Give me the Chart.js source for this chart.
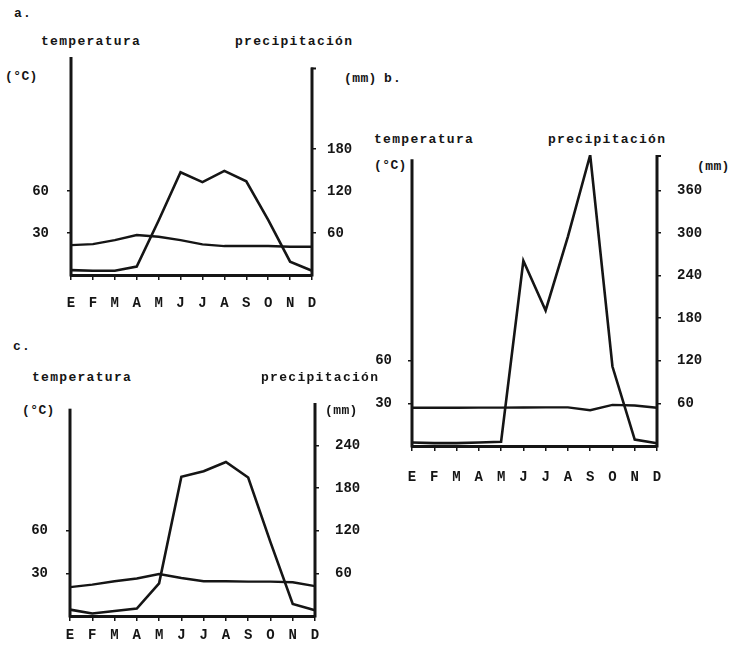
<!DOCTYPE html>
<html>
<head>
<meta charset="utf-8">
<script src="https://cdn.jsdelivr.net/npm/chart.js@4.4.1/dist/chart.umd.min.js"></script>
<style>
  html, body { margin: 0; padding: 0; background: #fff; }
  body { width: 731px; height: 656px; position: relative; overflow: hidden; }
  canvas { position: absolute; }
  .t {
    position: absolute; white-space: nowrap; color: #151515;
    font-family: "Liberation Mono", "DejaVu Sans Mono", monospace;
    font-weight: bold; font-size: 13px; line-height: 16px;
    letter-spacing: 1.3px; transform: translateY(-50%);
  }
  .u { letter-spacing: 0.4px; }
</style>
</head>
<body>

<!-- panel a -->
<div class="t" style="left:14px;top:14px;">a.</div>
<div class="t" style="left:41px;top:42px;">temperatura</div>
<div class="t" style="left:235px;top:42px;">precipitación</div>
<div class="t u" style="left:5px;top:77px;">(°C)</div>
<div class="t u" style="left:344px;top:79px;">(mm)</div>
<canvas id="chartA" width="365" height="320" style="left:0;top:0;"></canvas>

<!-- panel b -->
<div class="t" style="left:384px;top:79px;">b.</div>
<div class="t" style="left:374px;top:140px;">temperatura</div>
<div class="t" style="left:548px;top:140px;">precipitación</div>
<div class="t u" style="left:374px;top:166px;">(°C)</div>
<div class="t u" style="left:697px;top:167px;">(mm)</div>
<canvas id="chartB" width="371" height="400" style="left:360px;top:100px;"></canvas>

<!-- panel c -->
<div class="t" style="left:13px;top:347px;">c.</div>
<div class="t" style="left:32px;top:378px;">temperatura</div>
<div class="t" style="left:261px;top:378px;">precipitación</div>
<div class="t u" style="left:22px;top:411px;">(°C)</div>
<div class="t u" style="left:325px;top:411px;">(mm)</div>
<canvas id="chartC" width="365" height="316" style="left:0;top:340px;"></canvas>

<script>
// Month initials (Spanish)
const months = ['E','F','M','A','M','J','J','A','S','O','N','D'];

// Panel a: mean monthly temperature (°C) and precipitation (mm)
const tempA = [21.4, 22.1, 25, 28.6, 27.4, 25, 21.9, 20.7, 20.7, 20.7, 20.2, 20.2];
const precA = [7, 6, 6, 12, 78, 147, 133, 149, 134, 79, 19, 6];

// Panel b
const tempB = [26.9, 26.9, 26.9, 27, 27, 27.1, 27.2, 27.2, 25.2, 29, 28.5, 26.9];
const precB = [5, 4, 4, 5, 6, 261, 191, 295, 410, 112, 9, 4];

// Panel c
const tempC = [20.3, 22.1, 24.5, 26.4, 29.6, 26.8, 24.5, 24.5, 24.2, 24.2, 23.8, 21];
const precC = [9, 3.5, 7, 10.5, 46, 196, 204, 217, 195, 104, 17, 8];

// Axis tick values
const tempTicks = [30, 60];
const precTicksA = [60, 120, 180];
const precTicksB = [60, 120, 180, 240, 300, 360];
const precTicksC = [60, 120, 180, 240];

const INK = '#151515';
const FONT = { family: '"Liberation Mono", "DejaVu Sans Mono", monospace', weight: 'bold', size: 14 };

// Draws the two vertical axes, each running from its own top value down to zero
const axisLines = {
  id: 'axisLines',
  afterDatasetsDraw(chart, args, opts) {
    const { ctx, chartArea, scales } = chart;
    ctx.save();
    ctx.strokeStyle = INK;
    ctx.lineWidth = 3;
    ctx.lineCap = 'butt';
    const yl = scales.y.getPixelForValue(opts.leftTop);
    ctx.beginPath();
    ctx.moveTo(chartArea.left, yl);
    ctx.lineTo(chartArea.left, chartArea.bottom + 1.5);
    ctx.stroke();
    const yr = scales.y1.getPixelForValue(opts.rightTop);
    ctx.beginPath();
    ctx.moveTo(chartArea.right, yr);
    ctx.lineTo(chartArea.right, chartArea.bottom + 1.5);
    ctx.stroke();
    if (opts.hook) {
      ctx.lineWidth = 2;
      ctx.beginPath();
      ctx.moveTo(chartArea.right - 1, yr + 1);
      ctx.lineTo(chartArea.right + 4, yr + 1);
      ctx.stroke();
    }
    ctx.restore();
  }
};

function climateChart(id, temp, prec, g) {
  return new Chart(document.getElementById(id), {
    type: 'line',
    data: {
      labels: months,
      datasets: [
        { data: temp, yAxisID: 'y', borderColor: INK, borderWidth: 2.4, pointRadius: 0, tension: 0, fill: false },
        { data: prec, yAxisID: 'y1', borderColor: INK, borderWidth: 2.6, pointRadius: 0, tension: 0, fill: false }
      ]
    },
    options: {
      responsive: false,
      animation: false,
      devicePixelRatio: 1,
      layout: { padding: { top: g.top, left: 0, right: 0, bottom: 0 } },
      plugins: {
        legend: { display: false },
        tooltip: { enabled: false },
        axisLines: { leftTop: g.leftTop, rightTop: g.rightTop, hook: g.hook }
      },
      scales: {
        x: {
          type: 'category',
          offset: false,
          grid: { display: true, drawOnChartArea: false, drawTicks: true, tickLength: 5, color: INK, lineWidth: 1.5 },
          border: { display: true, width: 3, color: INK },
          ticks: { autoSkip: false, maxRotation: 0, color: INK, font: FONT, padding: g.xPad },
          afterFit(s) { s.height = g.bottomH; }
        },
        y: {
          type: 'linear', position: 'left', min: 0, max: g.tMax,
          afterBuildTicks(s) { s.ticks = tempTicks.map(v => ({ value: v })); },
          grid: { display: true, drawOnChartArea: false, drawTicks: true, tickLength: 4, color: INK, lineWidth: 1.5 },
          border: { display: false },
          ticks: { color: INK, font: FONT, padding: g.lPad },
          afterFit(s) { s.width = g.leftW; }
        },
        y1: {
          type: 'linear', position: 'right', min: 0, max: g.pMax,
          afterBuildTicks(s) { s.ticks = g.precTicks.map(v => ({ value: v })); },
          grid: { display: true, drawOnChartArea: false, drawTicks: true, tickLength: 4, color: INK, lineWidth: 1.5 },
          border: { display: false },
          ticks: { color: INK, font: FONT, padding: g.rPad },
          afterFit(s) { s.width = g.rightW; }
        }
      }
    },
    plugins: [axisLines]
  });
}

climateChart('chartA', tempA, precA, {
  top: 57, leftW: 71, rightW: 53, bottomH: 45,
  tMax: 156, pMax: 312, leftTop: 156, rightTop: 297, hook: true,
  precTicks: precTicksA, xPad: 15, lPad: 18, rPad: 11
});

climateChart('chartB', tempB, precB, {
  top: 55, leftW: 52, rightW: 74, bottomH: 54,
  tMax: 205, pMax: 410, leftTop: 202, rightTop: 410, hook: true,
  precTicks: precTicksB, xPad: 18, lPad: 16, rPad: 16
});

climateChart('chartC', tempC, precC, {
  top: 63, leftW: 70, rightW: 50, bottomH: 40,
  tMax: 150, pMax: 300, leftTop: 146, rightTop: 300, hook: false,
  precTicks: precTicksC, xPad: 6, lPad: 18, rPad: 16
});
</script>
</body>
</html>
